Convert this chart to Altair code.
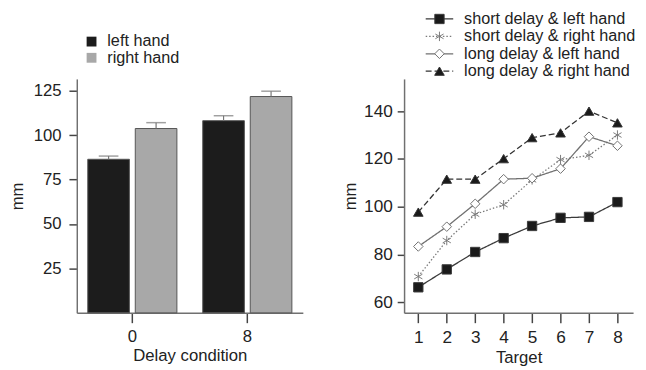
import altair as alt
import pandas as pd

# ---- left panel data ----
delays = ["0", "8"]
hands = ["left hand", "right hand"]
left_means = [86.4, 108.1]
right_means = [103.7, 121.7]
left_upper = [88.2, 110.9]
right_upper = [107.0, 124.7]

# ---- right panel data ----
targets = [1, 2, 3, 4, 5, 6, 7, 8]
series_names = ["short delay & left hand", "short delay & right hand",
                "long delay & left hand", "long delay & right hand"]
short_left = [66.2, 73.7, 81.0, 86.8, 91.9, 95.3, 95.7, 101.9]
short_right = [70.7, 85.8, 96.8, 100.8, 111.2, 119.7, 121.5, 130.0]
long_left = [83.3, 91.6, 101.2, 111.5, 111.9, 115.9, 129.3, 125.5]
long_right = [97.7, 111.5, 111.5, 120.1, 128.9, 130.9, 140.0, 135.1]

FONT = "Liberation Sans"

bars = pd.DataFrame({
    "delay": delays * 2,
    "hand": [hands[0]] * 2 + [hands[1]] * 2,
    "mean": left_means + right_means,
    "upper": left_upper + right_upper,
})
hand_leg = pd.DataFrame({"hand": hands, "i": list(range(len(hands)))})

hand_color = alt.Color("hand:N", scale=alt.Scale(domain=hands, range=["#1c1c1c", "#a8a8a8"]), legend=None)
xdel = alt.X("delay:N", scale=alt.Scale(domain=delays, paddingInner=0.2, paddingOuter=0.083),
             axis=alt.Axis(title="Delay condition", labelAngle=0, tickSize=10, labelPadding=6,
                           labelFontSize=17, titleFontSize=17, titlePadding=4))
xoff = alt.XOffset("hand:N", scale=alt.Scale(domain=hands, paddingInner=0.124, paddingOuter=0.03))
ydom = alt.Scale(domain=[0, 131.6], nice=False, zero=True)

bar_layer = alt.Chart(bars).mark_bar(stroke="#555", strokeWidth=1).encode(
    x=xdel, xOffset=xoff,
    y=alt.Y("mean:Q", scale=ydom,
            axis=alt.Axis(values=[25, 50, 75, 100, 125], title="mm", tickSize=8, labelPadding=8,
                          labelFontSize=17, titleFontSize=17, titlePadding=7)),
    color=hand_color,
)
err_rule = alt.Chart(bars).mark_rule(color="#777", strokeWidth=1.2).encode(
    x=xdel, xOffset=xoff, y=alt.Y("mean:Q", scale=ydom), y2="upper:Q")
err_cap = alt.Chart(bars).mark_tick(color="#777", size=20, thickness=1.5).encode(
    x=xdel, xOffset=xoff, y=alt.Y("upper:Q", scale=ydom))

leg_sq = alt.Chart(hand_leg).mark_square(size=100, opacity=1).transform_calculate(
    ly="-38 + 16.5 * datum.i").encode(
    x=alt.value(15), y=alt.Y("ly:Q", scale=None), color=hand_color)
leg_tx = alt.Chart(hand_leg).mark_text(align="left", baseline="middle", fontSize=16.5, font=FONT,
                                      color="#222").transform_calculate(
    ly="-38 + 16.5 * datum.i").encode(
    x=alt.value(31), y=alt.Y("ly:Q", scale=None), text="hand:N")

left = alt.layer(bar_layer, err_rule, err_cap, leg_sq, leg_tx).properties(width=230, height=238)

# ---- right panel ----
rows = []
for name, vals in zip(series_names, [short_left, short_right, long_left, long_right]):
    for t, v in zip(targets, vals):
        rows.append({"target": t, "series": name, "value": v})
lines = pd.DataFrame(rows)
ser_leg = pd.DataFrame({"series": series_names, "i": list(range(len(series_names)))})

star = "M0,-1L0,1M-0.87,-0.5L0.87,0.5M-0.87,0.5L0.87,-0.5"
s_stroke = alt.Stroke("series:N", scale=alt.Scale(domain=series_names,
                      range=["#3a3a3a", "#7a7a7a", "#707070", "#333333"]), legend=None)
s_dash = alt.StrokeDash("series:N", scale=alt.Scale(domain=series_names,
                        range=[[1, 0], [1.5, 2], [1, 0], [6, 3]]), legend=None)
s_shape = alt.Shape("series:N", scale=alt.Scale(domain=series_names,
                    range=["square", star, "diamond", "triangle-up"]), legend=None)
s_fill = alt.Fill("series:N", scale=alt.Scale(domain=series_names,
                  range=["#1a1a1a", "#ffffff", "#ffffff", "#1a1a1a"]), legend=None)
s_size = alt.Size("series:N", scale=alt.Scale(domain=series_names, range=[90, 95, 105, 115]), legend=None)
s_pstroke = alt.Stroke("series:N", scale=alt.Scale(domain=series_names,
                       range=["#1a1a1a", "#444444", "#555555", "#1a1a1a"]), legend=None)

xt = alt.X("target:Q", scale=alt.Scale(domain=[0.5, 8.55], nice=False, zero=False),
           axis=alt.Axis(values=targets, title="Target", format="d", tickSize=10, labelPadding=6,
                         labelFontSize=17.5, titleFontSize=17, titlePadding=4))
yv = alt.Y("value:Q", scale=alt.Scale(domain=[55.5, 153.5], nice=False, zero=False),
           axis=alt.Axis(values=[60, 80, 100, 120, 140], title="mm", tickSize=7, labelPadding=5,
                         labelFontSize=17.5, titleFontSize=17, titlePadding=4))

line_layer = alt.Chart(lines).mark_line(strokeWidth=1.3).encode(
    x=xt, y=yv, stroke=s_stroke, strokeDash=s_dash, detail="series:N")
pt_layer = alt.Chart(lines).mark_point(filled=True, opacity=1, strokeWidth=1).encode(
    x=xt, y=yv, shape=s_shape, fill=s_fill, stroke=s_pstroke, size=s_size)

lg_line = alt.Chart(ser_leg).mark_rule(strokeWidth=1.3).transform_calculate(
    ly="-61 + 17.7 * datum.i").encode(
    x=alt.value(22), x2=alt.value(50), y=alt.Y("ly:Q", scale=None), stroke=s_stroke, strokeDash=s_dash)
lg_pt = alt.Chart(ser_leg).mark_point(filled=True, opacity=1, strokeWidth=1).transform_calculate(
    ly="-61 + 17.7 * datum.i").encode(
    x=alt.value(36), y=alt.Y("ly:Q", scale=None), shape=s_shape, fill=s_fill, stroke=s_pstroke,
    size=alt.Size("series:N", scale=alt.Scale(domain=series_names, range=[55, 70, 70, 80]), legend=None))
lg_tx = alt.Chart(ser_leg).mark_text(align="left", baseline="middle", fontSize=16.5, font=FONT,
                                    color="#222").transform_calculate(
    ly="-61 + 17.7 * datum.i").encode(
    x=alt.value(61), y=alt.Y("ly:Q", scale=None), text="series:N")

right = alt.layer(line_layer, pt_layer, lg_line, lg_pt, lg_tx).properties(width=233, height=238)

chart = alt.hconcat(left, right, spacing=103, bounds="flush").properties(
    padding={"left": 0, "top": 0, "right": 2, "bottom": 2}
).configure_view(stroke=None).configure_axis(
    domainColor="#707070", domainWidth=1.5, tickColor="#444", tickWidth=1.5,
    labelColor="#222", titleColor="#222", labelFont=FONT, titleFont=FONT,
    titleFontWeight="normal", grid=False
)

chart.save("out.html", embed_options={"renderer": "svg", "actions": False})
